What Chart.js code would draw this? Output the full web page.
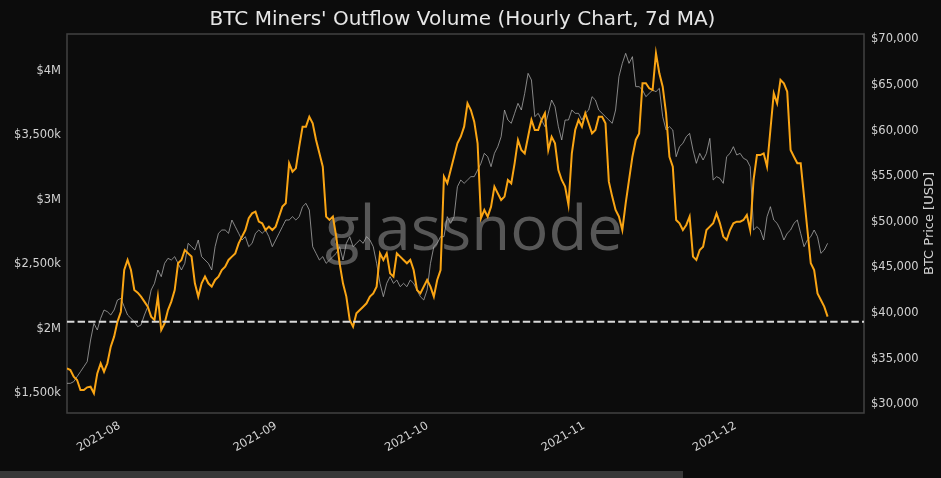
<!DOCTYPE html>
<html>
<head>
<meta charset="utf-8">
<title>BTC Miners' Outflow Volume</title>
<script src="https://cdn.jsdelivr.net/npm/chart.js@4.4.1/dist/chart.umd.min.js"></script>
<style>
  html, body { margin: 0; padding: 0; background: #0c0c0c; }
</style>
</head>
<body>
<canvas id="outflowChart" width="941" height="478"></canvas>
<script>
// x = hours since 2021-08-01 00:00, one reading every 16 h (7d MA of hourly data)
const startHour = -250;
const stepHours = 16;

const monthHours = [0, 744, 1464, 2208, 2928];
const monthLabels = ['2021-08', '2021-09', '2021-10', '2021-11', '2021-12'];

const outflowTicks = [1500, 2000, 2500, 3000, 3500, 4000];
const priceTicks = [30000, 35000, 40000, 45000, 50000, 55000, 60000, 65000, 70000];

// miners' outflow volume, in $k
const outflow = [
    1693, 1680, 1629, 1603, 1525, 1525, 1546, 1551, 1500, 1654,
    1732, 1667, 1732, 1861, 1939, 2055, 2132, 2455, 2533, 2455,
    2300, 2280, 2249, 2210, 2171, 2094, 2068, 2249, 1990, 2042,
    2145, 2210, 2300, 2507, 2533, 2610, 2584, 2559, 2352, 2249,
    2352, 2404, 2352, 2326, 2378, 2404, 2455, 2481, 2533, 2559,
    2584, 2662, 2714, 2765, 2856, 2894, 2907, 2830, 2817, 2765,
    2791, 2765, 2791, 2869, 2946, 2972, 3282, 3217, 3243, 3411,
    3566, 3566, 3643, 3592, 3463, 3359, 3256, 2869, 2843, 2869,
    2714, 2507, 2352, 2249, 2068, 2016, 2119, 2145, 2171, 2197,
    2249, 2274, 2326, 2584, 2533, 2584, 2429, 2404, 2584, 2559,
    2533, 2507, 2533, 2455, 2300, 2274, 2326, 2378, 2326, 2249,
    2378, 2455, 3178, 3127, 3230, 3333, 3437, 3488, 3566, 3747,
    3695, 3605, 3437, 2856, 2920, 2869, 2946, 3101, 3049, 2998,
    3024, 3153, 3127, 3282, 3463, 3385, 3359, 3488, 3618, 3540,
    3540, 3618, 3669, 3385, 3488, 3437, 3230, 3153, 3101, 2959,
    3359, 3540, 3618, 3566, 3669, 3592, 3514, 3540, 3643, 3643,
    3592, 3140, 3024, 2920, 2869, 2765, 2972, 3153, 3333, 3463,
    3514, 3902, 3902, 3863, 3850, 4134, 3979, 3876, 3669, 3333,
    3256, 2843, 2817, 2765, 2804, 2869, 2559, 2533, 2610, 2636,
    2765, 2791, 2817, 2894, 2817, 2714, 2688, 2765, 2817, 2830,
    2830, 2843, 2881, 2765, 3153, 3346, 3346, 3359, 3256, 3540,
    3824, 3747, 3928, 3902, 3837, 3385, 3333, 3282, 3282, 3024,
    2765, 2507, 2455, 2274, 2223, 2171, 2094
];

// BTC price, USD
const price = [
    32297, 32297, 32480, 33028, 33576, 34124, 34672, 37045, 38873, 38142,
    39420, 40334, 40151, 39786, 40334, 41430, 41612, 40699, 39786, 39420,
    39055, 38507, 38690, 39786, 40699, 42526, 43256, 44717, 43987, 45448,
    45996, 45813, 46179, 45448, 44717, 45448, 47640, 47274, 46909, 48005,
    46179, 45813, 45448, 44717, 47274, 48736, 49101, 49101, 48736, 50197,
    49466, 48736, 48005, 48370, 47274, 47640, 48736, 49101, 48736, 49101,
    48370, 47274, 48005, 48736, 49466, 50197, 50197, 50562, 50197, 50562,
    51658, 52023, 51293, 47274, 46544, 45813, 46179, 45448, 45813, 46179,
    46544, 47274, 45813, 47640, 48370, 47274, 47640, 48005, 47640, 48370,
    48005, 47274, 45448, 43256, 41795, 43256, 43987, 43256, 43621, 42891,
    43256, 42891, 43621, 43256, 42526, 41795, 41430, 42526, 45448, 47274,
    47640, 48370, 48370, 50562, 49832, 50562, 53850, 54580, 54215, 54580,
    54946, 54946, 55676, 56407, 57503, 57137, 56042, 57503, 58233, 59329,
    62252, 61156, 60790, 61886, 62982, 62252, 64078, 66270, 65539, 61521,
    61886, 61156, 60425, 61886, 63347, 62617, 60425, 58964, 61156, 61156,
    62252, 61886, 61886, 61156, 61886, 62252, 63713, 63347, 62252, 61886,
    61521, 61156, 60790, 62252, 65905, 67366, 68462, 67366, 68097, 64809,
    64809, 64443, 63713, 64078, 64443, 64260, 64626, 61521, 60060, 60425,
    60060, 57137, 58233, 58599, 59329, 59694, 57868, 56407, 57503, 56772,
    57503, 59146, 54580, 54946, 54763, 54215, 57137, 57503, 58233, 57320,
    57503, 56955, 56772, 56042, 49101, 49466, 49101, 48005, 50562, 51658,
    50197, 49832, 49101, 48005, 48736, 49101, 49832, 50197, 48736, 47274,
    48005, 48370, 49101, 48370, 46544, 46909, 47640
];

// dashed reference level, $k
const refLevel = 2055;

const xMin = -250;
const xMax = 3539;

document.addEventListener('DOMContentLoaded', function () {
    const ctx = document.getElementById('outflowChart').getContext('2d');
    const tickColor = '#d2d2d2';

    const toPoints = arr => arr.map((v, i) => ({ x: startHour + i * stepHours, y: v }));

    // background, watermark, frame and titles
    const decor = {
        id: 'decor',
        beforeDraw(chart) {
            const c = chart.ctx;
            c.save();
            c.fillStyle = '#0c0c0c';
            c.fillRect(0, 0, chart.width, chart.height);
            c.fillStyle = '#383838';
            c.fillRect(0, 471, 683, 7);
            c.restore();
        },
        beforeDatasetsDraw(chart) {
            const c = chart.ctx;
            const a = chart.chartArea;
            c.save();
            c.font = '63px "Open Sans"';
            const w = c.measureText('glassnode').width;
            c.translate(474, 250);
            c.scale(298 / w, 1);
            c.fillStyle = '#575757';
            c.textAlign = 'center';
            c.textBaseline = 'alphabetic';
            c.fillText('glassnode', 0, 0);
            c.restore();

            c.save();
            c.strokeStyle = '#424242';
            c.lineWidth = 1.5;
            c.strokeRect(a.left, a.top, a.right - a.left, a.bottom - a.top);
            c.restore();
        },
        afterDraw(chart) {
            const c = chart.ctx;
            const a = chart.chartArea;
            c.save();
            c.fillStyle = '#e6e6e6';
            c.font = '20px "DejaVu Sans"';
            c.textAlign = 'center';
            c.textBaseline = 'alphabetic';
            c.fillText("BTC Miners' Outflow Volume (Hourly Chart, 7d MA)", 462.5, 25);

            c.translate(930, (a.top + a.bottom) / 2);
            c.rotate(-Math.PI / 2);
            c.fillStyle = tickColor;
            c.font = '13px "DejaVu Sans"';
            c.textBaseline = 'middle';
            c.fillText('BTC Price [USD]', 0, 0);
            c.restore();
        }
    };

    const data = {
        datasets: [{
            label: 'level',
            data: [{ x: xMin, y: refLevel }, { x: xMax, y: refLevel }],
            yAxisID: 'y',
            borderColor: '#d9d9d9',
            borderWidth: 2,
            borderDash: [7.4, 3.2],
            pointRadius: 0
        },
        {
            label: 'Miners Outflow Volume',
            data: toPoints(outflow),
            yAxisID: 'y',
            borderColor: 'rgb(250, 165, 20)',
            borderWidth: 2,
            pointRadius: 0,
            tension: 0
        },
        {
            label: 'BTC Price',
            data: toPoints(price),
            yAxisID: 'y1',
            borderColor: 'rgba(175, 175, 175, 0.75)',
            borderWidth: 1,
            pointRadius: 0,
            tension: 0
        }]
    };

    Chart.defaults.font.family = '"DejaVu Sans"';

    const config = {
        type: 'line',
        data: data,
        plugins: [decor],
        options: {
            responsive: false,
            animation: false,
            devicePixelRatio: 1,
            layout: { padding: { top: 34, left: 0, right: 0, bottom: 0 } },
            plugins: {
                legend: { display: false },
                tooltip: { enabled: false },
                title: { display: false }
            },
            scales: {
                x: {
                    type: 'linear',
                    min: xMin,
                    max: xMax,
                    afterBuildTicks: axis => { axis.ticks = monthHours.map(v => ({ value: v })); },
                    afterFit: axis => { axis.height = 65; },
                    grid: { display: false, drawTicks: false },
                    border: { display: false },
                    ticks: {
                        autoSkip: false,
                        minRotation: 30,
                        maxRotation: 30,
                        padding: 6,
                        color: tickColor,
                        font: { size: 11.5 },
                        callback: (v, i) => monthLabels[i]
                    }
                },
                y: {
                    position: 'left',
                    min: 1347,
                    max: 4284,
                    afterBuildTicks: axis => { axis.ticks = outflowTicks.map(v => ({ value: v })); },
                    afterFit: axis => { axis.width = 67; },
                    grid: { display: false, drawTicks: false },
                    border: { display: false },
                    ticks: {
                        padding: 6,
                        color: tickColor,
                        font: { size: 11.5 },
                        callback: v => v % 1000 === 0 ? '$' + (v / 1000) + 'M' : '$' + v.toLocaleString('en-US') + 'k'
                    }
                },
                y1: {
                    position: 'right',
                    min: 29047,
                    max: 70581,
                    afterBuildTicks: axis => { axis.ticks = priceTicks.map(v => ({ value: v })); },
                    afterFit: axis => { axis.width = 77; },
                    grid: { display: false, drawTicks: false },
                    border: { display: false },
                    ticks: {
                        padding: 7,
                        color: tickColor,
                        font: { size: 11.5 },
                        callback: v => '$' + v.toLocaleString('en-US')
                    }
                }
            }
        }
    };

    new Chart(ctx, config);
});
</script>
</body>
</html>
